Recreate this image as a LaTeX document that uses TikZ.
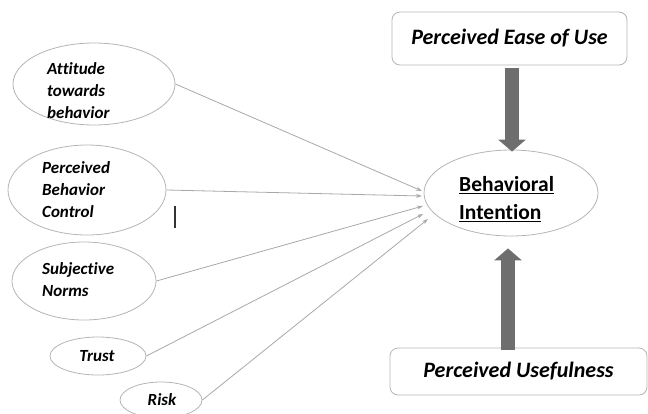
\documentclass[tikz,border=0pt]{standalone}
\usepackage{fontspec}
\setmainfont{Carlito}[Ligatures=CommonOff]
\usetikzlibrary{shapes.geometric,arrows.meta}
\definecolor{edgegray}{HTML}{B4B4B4}
\definecolor{linegray}{HTML}{A8A8A8}
\definecolor{fatgray}{HTML}{6E6E6E}
\begin{document}
\begin{tikzpicture}[x=1pt,y=-1pt,
  oval/.style={ellipse,draw=edgegray,line width=0.8pt,inner sep=0pt},
  boxnode/.style={rectangle,rounded corners=8pt,draw=edgegray,line width=0.8pt,inner sep=0pt},
  ovaltext/.style={anchor=west,align=left,inner sep=0pt,font=\fontsize{17}{22}\selectfont\bfseries\itshape},
  thin/.style={draw=linegray,line width=0.8pt,-{Stealth[length=6pt,width=4pt]}},
  fat/.style={draw=fatgray,line width=14pt,-{Triangle[width=27pt,length=12pt]}}]
\useasboundingbox (0,0) rectangle (648,413);
% ellipses
\node[oval,minimum width=162pt,minimum height=82pt] (att) at (94,84) {};
\node[oval,minimum width=158pt,minimum height=90pt] (pbc) at (87,190) {};
\node[oval,minimum width=144pt,minimum height=78pt] (sn) at (84,281) {};
\node[oval,minimum width=96pt,minimum height=38pt] (tr) at (98,356) {};
\node[oval,minimum width=82pt,minimum height=36pt] (rk) at (161,400) {};
\node[oval,minimum width=174pt,minimum height=86pt] (bi) at (511,193) {};
% boxes
\node[boxnode,minimum width=235pt,minimum height=53pt,font=\fontsize{22}{26}\selectfont\bfseries\itshape] (peou) at (509.5,38.5) {Perceived Ease of Use};
\node[boxnode,minimum width=257pt,minimum height=47pt,font=\fontsize{22}{26}\selectfont\bfseries\itshape] (pu) at (518.5,371.5) {Perceived Usefulness};
% texts
\node[ovaltext] (attT) at (47,91) {Attitude\\towards\\behavior};
\node[ovaltext] (pbcT) at (42,190) {Perceived\\Behavior\\Control};
\node[ovaltext] (snT) at (42,280) {Subjective\\Norms};
\node[ovaltext,anchor=center] (trT) at (97,356) {Trust};
\node[ovaltext,anchor=center] (rkT) at (162,400) {Risk};
\node[anchor=west,align=left,inner sep=0pt,font=\fontsize{21.5}{28}\selectfont\bfseries] (biT) at (459,199) {\underline{Behavioral}\\\underline{Intention}};
% end points near Behavioral Intention
\coordinate (e1) at (422,191);
\coordinate (e2) at (422,196);
\coordinate (e3) at (423,206);
\coordinate (e4) at (423,214);
\coordinate (e5) at (428,219);
\draw[thin] (att.east) -- (e1);
\draw[thin] (pbc.east) -- (e2);
\draw[thin] (sn.east) -- (e3);
\draw[thin] (tr.east) -- (e4);
\draw[thin] (rk.east) -- (e5);
% fat arrows
\draw[fat] ([xshift=2.5pt,yshift=-3pt]peou.south) -- ([xshift=1pt,yshift=-2pt]bi.north);
\draw[fat] ([xshift=-10.5pt,yshift=-2pt]pu.north) -- ([xshift=-3pt,yshift=-12pt]bi.south);
% cursor mark
\coordinate (c1) at (175,206);
\coordinate (c2) at (175,228);
\draw[line width=1.2pt,black!80] (c1) -- (c2);
\end{tikzpicture}
\end{document}
